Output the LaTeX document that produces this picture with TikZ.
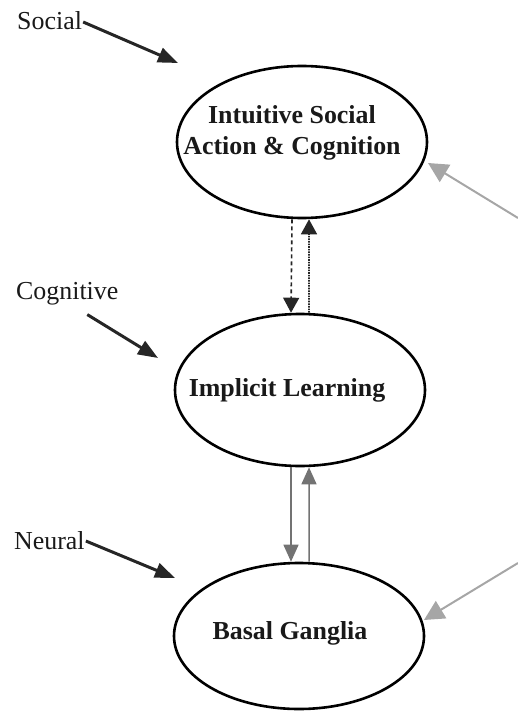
\documentclass[tikz,border=0pt]{standalone}
\usepackage{fontspec}
\setmainfont{Liberation Serif}
\usetikzlibrary{shapes.geometric,arrows.meta}
\tikzset{
  ell/.style={draw=black, line width=2.6bp, ellipse, minimum width=250bp, minimum height=152bp, inner sep=0pt},
  etxt/.style={font=\fontsize{26}{31}\selectfont\bfseries, align=center, text=black!90, inner sep=0pt},
  lbl/.style={font=\fontsize{26}{28}\selectfont, text=black!90, inner sep=0pt, anchor=west},
  levelarrow/.style={draw=black!85, line width=3bp, -{Triangle[length=20bp,width=15bp]}},
  blkarrow/.style={draw=black!85, line width=1.6bp, -{Triangle[length=15bp,width=16bp]}},
  grayarrow/.style={draw=black!55, line width=1.5bp, -{Triangle[length=17bp,width=15bp]}},
  sidearrow/.style={draw=black!35, line width=2bp, -{Triangle[length=20bp,width=20bp]}}
}
\begin{document}
\begin{tikzpicture}[x=1bp,y=-1bp]
\useasboundingbox (0,0) rectangle (518,711);
% ellipses
\node[ell] (isac) at (302,142) {};
\node[etxt] (isact) at (292,133) {Intuitive Social\\Action \& Cognition};
\node[ell] (il) at (300,390) {};
\node[etxt] (ilt) at (287,390) {Implicit Learning};
\node[ell, minimum height=146bp] (bg) at (299,636) {};
\node[etxt] (bgt) at (290,633) {Basal Ganglia};
% level labels
\node[lbl] (social) at (17,21) {Social};
\node[lbl] (cog) at (16,294) {Cognitive};
\node[lbl] (neural) at (14,541) {Neural};
\coordinate (socialtip) at (178,63);
\coordinate (cogtip) at (158,358);
\coordinate (neuraltip) at (175,578);
\draw[levelarrow] ([xshift=1bp,yshift=-1bp]social.east) -- (socialtip);
\draw[levelarrow] ([xshift=20bp,yshift=-9bp]cog.south) -- (cogtip);
\draw[levelarrow] ([xshift=1bp]neural.east) -- (neuraltip);
% between top and middle
\draw[blkarrow, dash pattern=on 4bp off 3bp] ([xshift=-10bp]isac.south) -- ([xshift=-9bp]il.north);
\draw[blkarrow, densely dotted] ([xshift=9bp]il.north) -- ([xshift=7bp]isac.south);
% between middle and bottom
\draw[grayarrow] ([xshift=-9bp]il.south) -- ([xshift=-8bp]bg.north);
\draw[grayarrow] ([xshift=10bp]bg.north) -- ([xshift=9bp]il.south);
% side arrows from right
\coordinate (rtop) at (518,218);
\coordinate (rbot) at (518,563);
\coordinate (ttop) at (428,163);
\coordinate (tbot) at (424,620);
\draw[sidearrow] (rtop) -- (ttop);
\draw[sidearrow] (rbot) -- (tbot);
\end{tikzpicture}
\end{document}
